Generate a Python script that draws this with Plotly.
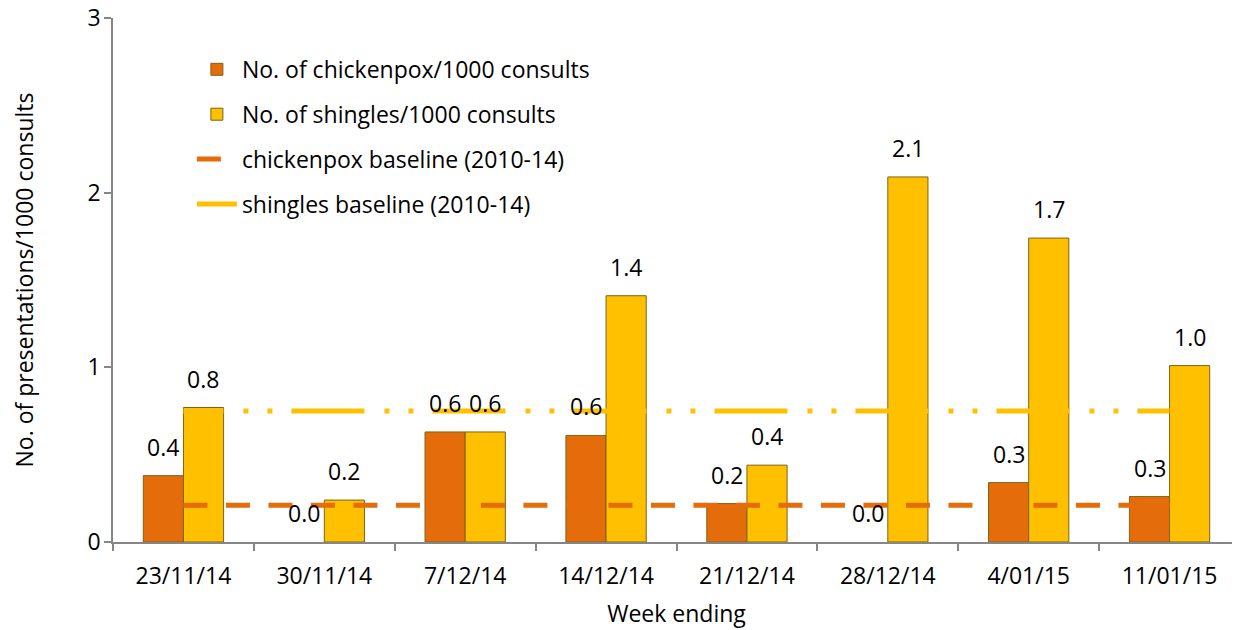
import plotly.graph_objects as go

weeks = ["23/11/14", "30/11/14", "7/12/14", "14/12/14", "21/12/14", "28/12/14", "4/01/15", "11/01/15"]
chickenpox = [0.38, 0.0, 0.63, 0.61, 0.22, 0.0, 0.34, 0.26]
shingles = [0.77, 0.24, 0.63, 1.41, 0.44, 2.09, 1.74, 1.01]
chickenpox_baseline = [0.21, 0.21, 0.21, 0.21, 0.21, 0.21, 0.21, 0.21]
shingles_baseline = [0.75, 0.75, 0.75, 0.75, 0.75, 0.75, 0.75, 0.75]
y_ticks = [0, 1, 2, 3]

FONT = "Open Sans"
FS = 23
ORANGE = "#E46C0A"
YELLOW = "#FFC000"
EDGE = "#7A6418"
AXIS = "#868686"

fig = go.Figure()
fig.add_trace(go.Bar(x=weeks, y=chickenpox, name="No. of chickenpox/1000 consults",
                     marker=dict(color=ORANGE,
                                 line=dict(color=EDGE, width=[1 if v > 0 else 0 for v in chickenpox])),
                     legendgroup="a"))
fig.add_trace(go.Bar(x=weeks, y=shingles, name="No. of shingles/1000 consults",
                     marker=dict(color=YELLOW,
                                 line=dict(color=EDGE, width=[1 if v > 0 else 0 for v in shingles])),
                     legendgroup="b"))
fig.add_trace(go.Scatter(x=weeks, y=chickenpox_baseline, mode="lines",
                         name="chickenpox baseline (2010-14)",
                         line=dict(color=ORANGE, width=5, dash="24px,18.5px"),
                         legendgroup="c"))
fig.add_trace(go.Scatter(x=weeks, y=shingles_baseline, mode="lines",
                         name="shingles baseline (2010-14)",
                         line=dict(color=YELLOW, width=5,
                                   dash="40px,20px,5px,19px,5px,19px,33px,0px"),
                         legendgroup="d"))

annotations = []
for i, w in enumerate(weeks):
    for vals, shift in ((chickenpox, -20), (shingles, 20)):
        annotations.append(dict(x=w, y=vals[i], xref="x", yref="y", text=f"{vals[i]:.1f}",
                                showarrow=False, xshift=shift, yshift=11, yanchor="bottom",
                                font=dict(family=FONT, size=FS, color="black")))

fig.update_layout(
    width=1240, height=630,
    margin=dict(l=105, r=8, t=10, b=96),
    paper_bgcolor="white", plot_bgcolor="white",
    barmode="group", bargap=0.43, bargroupgap=0,
    font=dict(family=FONT, size=FS, color="black"),
    showlegend=True,
    legend=dict(x=0.070, y=0.943, xanchor="left", yanchor="top",
                font=dict(family=FONT, size=FS, color="black"),
                tracegroupgap=12, itemwidth=40, bgcolor="rgba(0,0,0,0)",
                traceorder="grouped"),
    annotations=annotations,
    xaxis=dict(
        title=dict(text="Week ending", font=dict(family=FONT, size=FS), standoff=16),
        automargin=False,
        showline=True, linecolor=AXIS, linewidth=1.5,
        ticks="outside", tickson="boundaries", ticklen=7, tickcolor=AXIS, tickwidth=1.5,
        ticklabelstandoff=13,
        showgrid=False, tickfont=dict(family=FONT, size=FS),
    ),
    yaxis=dict(
        title=dict(text="No. of presentations/1000 consults", font=dict(family=FONT, size=FS), standoff=58),
        automargin=False,
        range=[0, 3], tickvals=y_ticks, ticktext=[str(v) for v in y_ticks],
        showline=True, linecolor=AXIS, linewidth=1.5,
        ticks="outside", ticklen=7, tickcolor=AXIS, tickwidth=1.5,
        ticklabelstandoff=-1, ticklabeloverflow="allow",
        showgrid=False, zeroline=False, tickfont=dict(family=FONT, size=FS),
    ),
)

fig.write_html("out.html")
